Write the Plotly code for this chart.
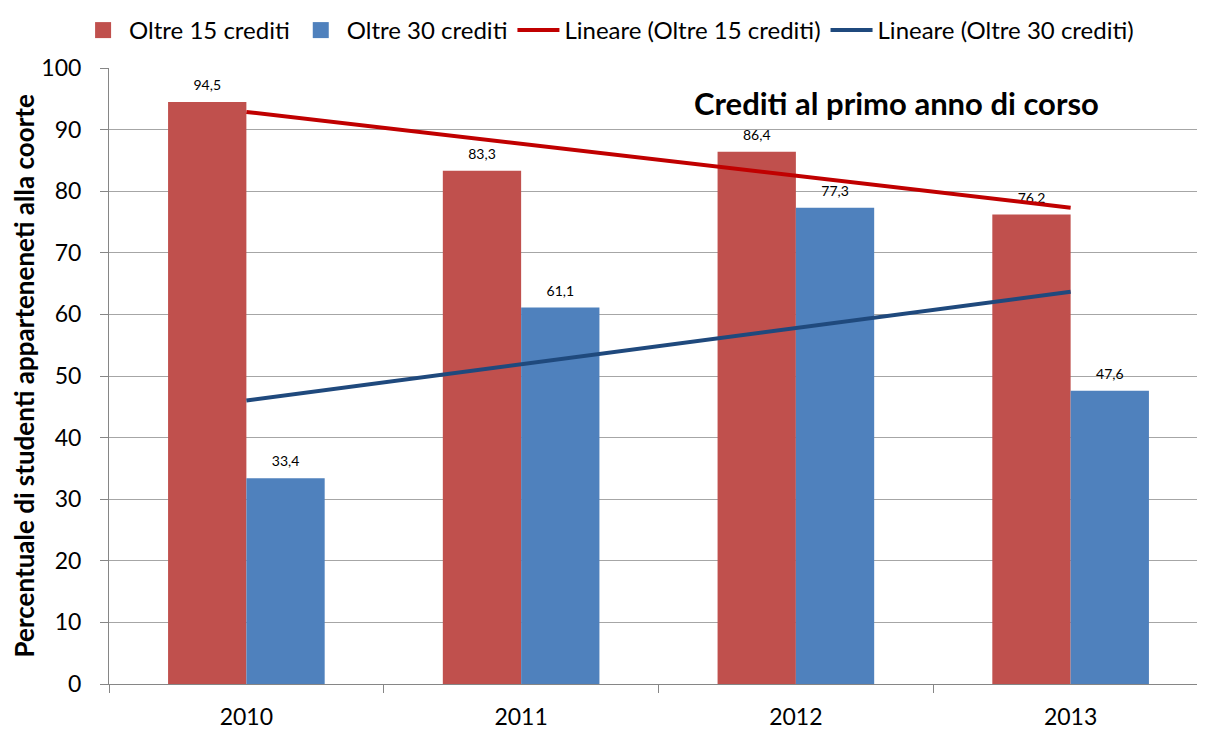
import numpy as np
import plotly.graph_objects as go

anni = ["2010", "2011", "2012", "2013"]
oltre15 = [94.5, 83.3, 86.4, 76.2]
oltre30 = [33.4, 61.1, 77.3, 47.6]
etichette15 = ["94,5", "83,3", "86,4", "76,2"]
etichette30 = ["33,4", "61,1", "77,3", "47,6"]

xi = np.arange(len(anni))
c15 = np.polyfit(xi, oltre15, 1)
c30 = np.polyfit(xi, oltre30, 1)
trend15 = np.polyval(c15, xi)
trend30 = np.polyval(c30, xi)

FONT = "Lato"
ROSSO = "#C0504D"
BLU = "#4F81BD"
def lab(t):
    return "<span style='font-size:14px'>" + t + "</span><br> "

fig = go.Figure()
fig.add_trace(go.Bar(x=anni, y=oltre15, name="Oltre 15 crediti", marker_color=ROSSO,
                     marker_line_width=0, text=[lab(t) for t in etichette15], textposition="outside",
                     textfont=dict(size=6, color="#000000", family=FONT), cliponaxis=False,
                     showlegend=False, legendgroup="a"))
fig.add_trace(go.Bar(x=anni, y=oltre30, name="Oltre 30 crediti", marker_color=BLU,
                     marker_line_width=0, text=[lab(t) for t in etichette30], textposition="outside",
                     textfont=dict(size=6, color="#000000", family=FONT), cliponaxis=False,
                     showlegend=False, legendgroup="b"))
# legend keys (square) for the bar series
fig.add_trace(go.Scatter(x=[None], y=[None], mode="markers", name="Oltre 15 crediti",
                         marker=dict(symbol="square", size=22, color=ROSSO), legendgroup="a",
                         legendrank=1))
fig.add_trace(go.Scatter(x=[None], y=[None], mode="markers", name="Oltre 30 crediti",
                         marker=dict(symbol="square", size=22, color=BLU), legendgroup="b",
                         legendrank=2))
fig.add_trace(go.Scatter(x=anni, y=trend15, mode="lines", name="Lineare (Oltre 15 crediti)",
                         line=dict(color="#C00000", width=4), legendrank=3))
fig.add_trace(go.Scatter(x=anni, y=trend30, mode="lines", name="Lineare (Oltre 30 crediti)",
                         line=dict(color="#1F497D", width=4), legendrank=4))

fig.update_layout(
    width=1205, height=731,
    margin=dict(l=101, r=5, t=60, b=55),
    paper_bgcolor="white", plot_bgcolor="white",
    font=dict(family=FONT, color="#000000", size=22),
    barmode="group", bargap=0.43, bargroupgap=0,
    uniformtext=dict(mode=False),
    showlegend=True,
    legend=dict(orientation="h", xref="container", yref="container", x=0.498, y=1.0,
                xanchor="center", yanchor="top", font=dict(size=24, family=FONT),
                itemwidth=42, tracegroupgap=0, itemsizing="trace"),
    annotations=[
        dict(text="<b>Crediti al primo anno di corso</b>", xref="paper", yref="paper",
             x=0.717, y=0.943, xanchor="center", yanchor="middle", showarrow=False,
             font=dict(size=31, family=FONT, color="#000000")),
        dict(text="<b>Percentuale di studenti apparteneneti alla coorte</b>", xref="paper",
             yref="paper", x=-0.077, y=0.5, xanchor="center", yanchor="middle",
             textangle=-90, showarrow=False, font=dict(size=26, family=FONT, color="#000000")),
    ],
)
fig.update_xaxes(type="category", categoryorder="array", categoryarray=anni,
                 tickson="boundaries", ticks="outside", ticklen=8,
                 tickcolor="#868686", showline=True, linecolor="#868686", linewidth=1,
                 showgrid=False, tickfont=dict(size=23, family=FONT), automargin=False,
                 ticklabelstandoff=12)
fig.update_yaxes(range=[0, 100], dtick=10, ticks="outside", ticklen=8, tickcolor="#868686",
                 showline=True, linecolor="#868686", linewidth=1, showgrid=True,
                 gridcolor="#A6A6A6", gridwidth=1, tickfont=dict(size=23, family=FONT),
                 automargin=False, zeroline=False, ticklabelstandoff=14)
fig.write_html("out.html")
